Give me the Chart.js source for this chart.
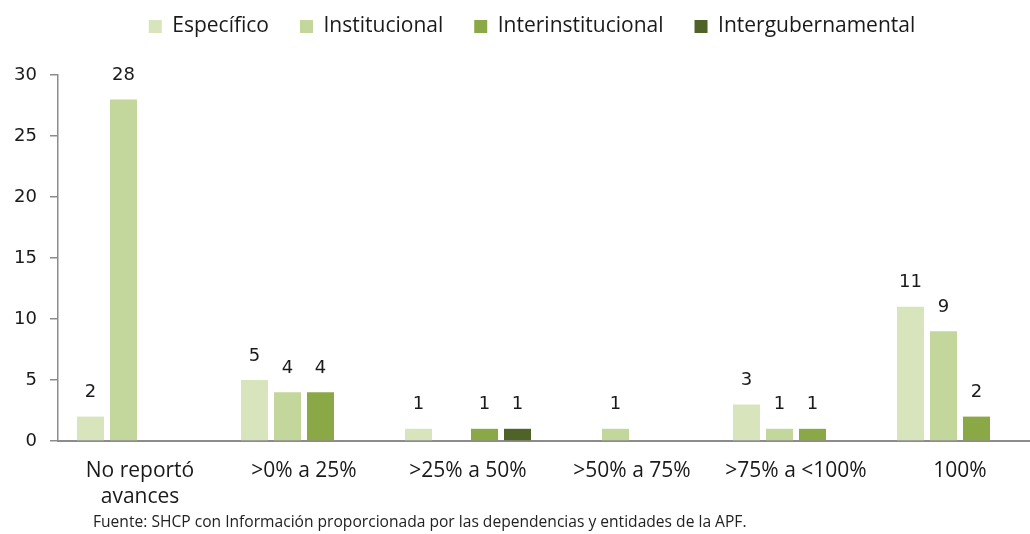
<!DOCTYPE html>
<html>
<head>
<meta charset="utf-8">
<script src="https://cdn.jsdelivr.net/npm/chart.js@4.4.1/dist/chart.umd.min.js"></script>
<style>
  html, body { margin: 0; padding: 0; background: #fff; overflow: hidden; width: 1030px; height: 534px; }
  #wrap { position: relative; width: 1064px; height: 534px; }
  #c { position: absolute; left: 0; top: 0; }
  #src { position: absolute; left: 93px; top: 510px; font-family: "Open Sans", sans-serif; font-size: 15.6px; color: #222; white-space: nowrap; }
</style>
</head>
<body>
<div id="wrap">
  <canvas id="c" width="1064" height="534"></canvas>
  <div id="src">Fuente: SHCP con Información proporcionada por las dependencias y entidades de la APF.</div>
</div>
<script>
const categories = [["No reportó", "avances"], ">0% a 25%", ">25% a 50%", ">50% a 75%", ">75% a <100%", "100%"];
const seriesNames = ["Específico", "Institucional", "Interinstitucional", "Intergubernamental"];
const especifico = [2, 5, 1, null, 3, 11];
const institucional = [28, 4, null, 1, 1, 9];
const interinstitucional = [null, 4, 1, null, 1, 2];
const intergubernamental = [null, null, 1, null, null, null];
const yTicks = [0, 5, 10, 15, 20, 25, 30];

const colors = ["#D8E4BC", "#C3D69B", "#8BA846", "#4F6228"];
const seriesData = [especifico, institucional, interinstitucional, intergubernamental];

const legendPlacement = {
  id: 'legendPlacement',
  beforeInit(chart) {
    const orig = chart.legend.fit;
    chart.legend.fit = function () { orig.bind(chart.legend)(); this.height = 90; };
  },
  afterLayout(chart) {
    chart.legend.left += 11;
    chart.legend.right += 11;
  }
};

const valueLabels = {
  id: 'valueLabels',
  afterDatasetsDraw(chart) {
    const ctx = chart.ctx;
    ctx.save();
    ctx.font = '18px "DejaVu Sans"';
    ctx.fillStyle = '#1a1a1a';
    ctx.textAlign = 'center';
    ctx.textBaseline = 'middle';
    chart.data.datasets.forEach((ds, i) => {
      const meta = chart.getDatasetMeta(i);
      meta.data.forEach((bar, j) => {
        const v = ds.data[j];
        if (v === null || v === undefined) return;
        ctx.fillText(String(v), bar.x, bar.y - 24);
      });
    });
    ctx.restore();
  }
};

new Chart(document.getElementById('c'), {
  type: 'bar',
  data: {
    labels: categories,
    datasets: seriesNames.map((n, i) => ({
      label: n,
      data: seriesData[i],
      backgroundColor: colors[i],
      borderWidth: 0,
      categoryPercentage: 0.805,
      barPercentage: 0.818
    }))
  },
  options: {
    responsive: false,
    animation: false,
    layout: { padding: { top: -15, right: 22, left: 0, bottom: 0 } },
    plugins: {
      tooltip: { enabled: false },
      legend: {
        position: 'top',
        align: 'center',
        labels: {
          boxWidth: 13,
          boxHeight: 13,
          padding: 31,
          color: '#1a1a1a',
          font: { family: '"Open Sans"', size: 21 }
        }
      }
    },
    scales: {
      x: {
        grid: { display: false, drawTicks: false },
        border: { display: true, color: '#8c8c8c', width: 2 },
        ticks: {
          color: '#1a1a1a',
          font: { family: '"Open Sans"', size: 21, lineHeight: 1.24 },
          padding: 17,
          maxRotation: 0,
          autoSkip: false
        },
        afterFit(s) { s.height = 93; }
      },
      y: {
        min: 0,
        max: 30,
        afterBuildTicks(s) { s.ticks = yTicks.map(v => ({ value: v })); },
        grid: { drawOnChartArea: false, drawTicks: true, tickLength: 8, color: '#8c8c8c', lineWidth: 1.5 },
        border: { display: true, color: '#8c8c8c', width: 1.5 },
        ticks: {
          color: '#1a1a1a',
          font: { family: '"DejaVu Sans"', size: 18 },
          padding: 13
        },
        afterFit(s) { s.width = 58; }
      }
    }
  },
  plugins: [legendPlacement, valueLabels]
});
</script>
</body>
</html>
